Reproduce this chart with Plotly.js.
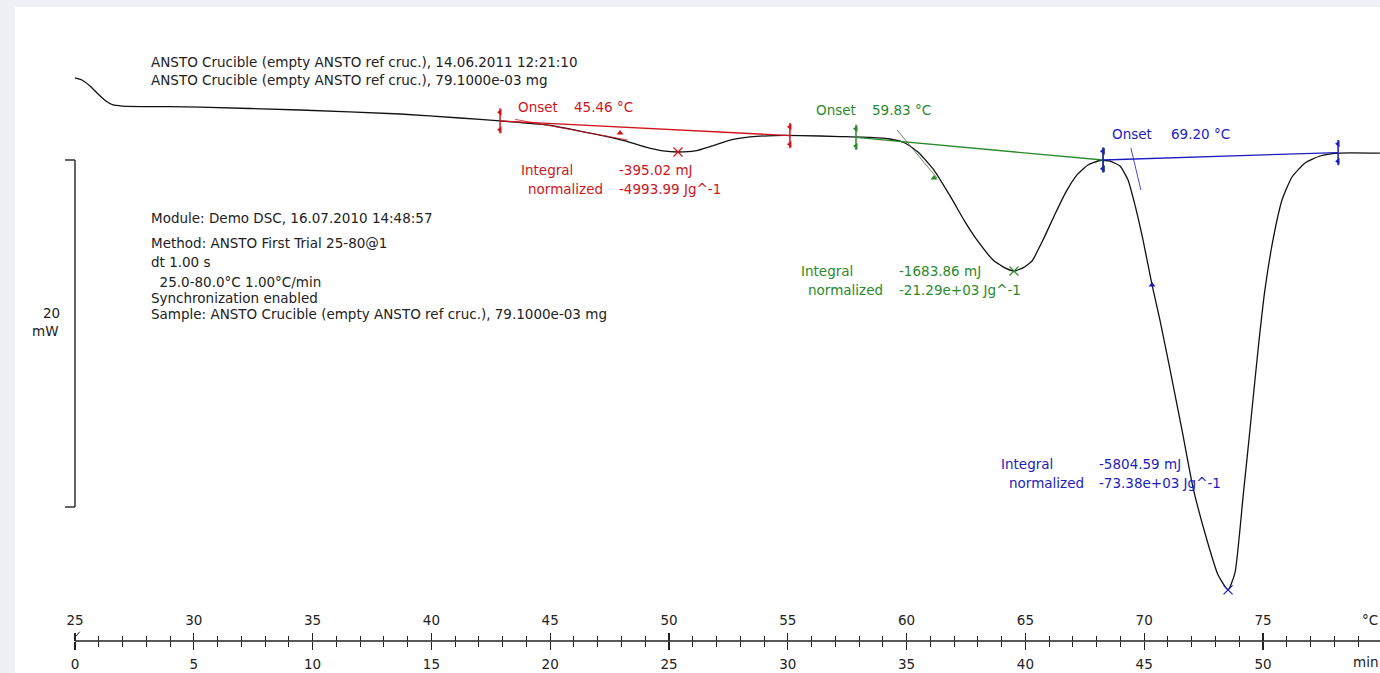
<!DOCTYPE html>
<html>
<head>
<meta charset="utf-8">
<script src="https://cdn.plot.ly/plotly-3.0.1.min.js"></script>
<style>html,body{margin:0;padding:0;background:#eef0f5;}#chart{width:1380px;height:673px;}</style>
</head>
<body>
<div id="chart"></div>
<script>
// ---- DSC curve: time (min) vs heat flow (mW, arbitrary offset) ----
const timeMin = [0.00,0.29,0.63,0.97,1.30,1.60,1.98,5.26,9.47,13.68,16.20,17.89,19.87,21.25,22.31,23.15,23.99,24.75,25.38,26.09,26.81,27.57,28.41,29.46,30.51,32.20,33.46,34.30,34.93,35.48,36.15,36.83,37.46,37.96,38.64,39.14,39.52,39.90,40.28,40.74,41.25,41.71,42.17,42.63,43.14,43.56,43.98,44.32,44.61,44.95,45.33,45.66,46.09,46.59,47.05,47.64,48.11,48.53,48.82,49.16,49.45,49.79,50.08,50.42,50.80,51.22,51.77,52.40,53.16,54.92];
const heatFlow = [4.73,4.61,4.27,3.80,3.40,3.17,3.11,3.05,2.88,2.65,2.42,2.25,2.02,1.67,1.38,1.10,0.75,0.52,0.46,0.52,0.81,1.15,1.33,1.41,1.41,1.35,1.30,1.21,0.98,0.46,-0.58,-2.07,-3.57,-4.61,-5.76,-6.22,-6.40,-6.22,-5.82,-4.61,-3.11,-1.84,-0.86,-0.29,-0.03,-0.06,-0.35,-1.15,-2.59,-4.61,-7.20,-9.22,-12.10,-15.56,-18.85,-21.90,-23.92,-24.78,-23.80,-19.42,-15.56,-10.95,-7.49,-4.61,-2.31,-0.98,-0.17,0.23,0.40,0.40];

// ---- evaluation baselines (start/end) ----
const peakColors  = ['#d0141e','#2b8a2b','#1c1cc0'];
const baseT0 = [17.89, 32.87, 43.27];
const baseY0 = [2.25, 1.30, 0.00];
const baseT1 = [30.09, 43.27, 53.16];
const baseY1 = [1.41, 0.00, 0.43];
// onset tangents
const tanT0 = [18.52, 34.60, 44.44];
const tanY0 = [2.34, 1.73, 0.69];
const tanT1 = [23.27, 36.28, 44.86];
const tanY1 = [1.15, -1.04, -1.73];
// peak (minimum) markers
const peakT = [25.38, 39.52, 48.53];
const peakY = [0.46, -6.40, -24.78];
// small limit markers on the curve
const limT = [22.94, 36.15, 45.33];
const limY = [1.56, -1.04, -7.20];
// texts
const onsetText    = ['45.46 °C','59.83 °C','69.20 °C'];
const integralText = ['-395.02 mJ','-1683.86 mJ','-5804.59 mJ'];
const normText     = ['-4993.99 Jg^-1','-21.29e+03 Jg^-1','-73.38e+03 Jg^-1'];

// axes ticks
const timeTicks = [0,5,10,15,20,25,30,35,40,45,50];
const tempTicks = [25,30,35,40,45,50,55,60,65,70,75];
const timeMinor = [1,2,3,4,6,7,8,9,11,12,13,14,16,17,18,19,21,22,23,24,26,27,28,29,31,32,33,34,36,37,38,39,41,42,43,44,46,47,48,49,51,52,53,54];

// scale bar (mW)
const scaleBarTop = 0, scaleBarBottom = -20;

// header / info text
const headerLines = ['ANSTO Crucible (empty ANSTO ref cruc.), 14.06.2011 12:21:10','ANSTO Crucible (empty ANSTO ref cruc.), 79.1000e-03 mg'];
const infoLines = ['Module: Demo DSC, 16.07.2010 14:48:57','Method: ANSTO First Trial 25-80@1','dt 1.00 s','\u00a0\u00a025.0-80.0°C 1.00°C/min','Synchronization enabled','Sample: ANSTO Crucible (empty ANSTO ref cruc.), 79.1000e-03 mg'];

// ---- layout geometry (pixels -> paper) ----
const W=1380,H=673,ML=15,MT=7;
const PW=W-ML, PH=H-MT;
const xRange=[-2.525,54.924];
const yRange=[-29.568,8.818];
const px=p=>(p-ML)/PW;
const py=p=>(H-p)/PH;
const FONT='DejaVu Sans, sans-serif';
const FS=13.5;
const axisPos=py(641);

const traces=[];
traces.push({x:timeMin,y:heatFlow,mode:'lines',line:{color:'#111',width:1.3,shape:'spline',smoothing:0.5},hoverinfo:'skip',showlegend:false});
const shapes=[];
for(let i=0;i<3;i++){
  const c=peakColors[i];
  traces.push({x:[baseT0[i],baseT1[i]],y:[baseY0[i],baseY1[i]],mode:'lines',line:{color:c,width:1.3},showlegend:false,hoverinfo:'skip'});
  traces.push({x:[tanT0[i],tanT1[i]],y:[tanY0[i],tanY1[i]],mode:'lines',line:{color:i===1?'#446644':c,width:0.8},showlegend:false,hoverinfo:'skip'});
  traces.push({x:[peakT[i]],y:[peakY[i]],mode:'markers',marker:{symbol:'x-thin-open',size:9,color:c,line:{color:c,width:1.2}},showlegend:false,hoverinfo:'skip'});
  traces.push({x:[baseT0[i],baseT1[i]],y:[baseY0[i],baseY1[i]],mode:'markers',marker:{symbol:'line-ns-open',size:18,color:c,line:{color:c,width:1.5}},showlegend:false,hoverinfo:'skip'});
  traces.push({x:[baseT0[i],baseT1[i]],y:[baseY0[i]+0.5,baseY1[i]+0.5],mode:'markers',marker:{symbol:'triangle-left',size:6,color:c},showlegend:false,hoverinfo:'skip'});
  traces.push({x:[baseT0[i],baseT1[i]],y:[baseY0[i]-0.5,baseY1[i]-0.5],mode:'markers',marker:{symbol:'triangle-left',size:6,color:c},showlegend:false,hoverinfo:'skip'});
  traces.push({x:[limT[i]],y:[limY[i]],mode:'markers',marker:{symbol:'triangle-up',size:6,color:c},showlegend:false,hoverinfo:'skip'});
}
// scale bar
shapes.push({type:'line',xref:'x',yref:'y',x0:0,x1:0,y0:scaleBarTop,y1:scaleBarBottom,line:{color:'#333',width:1.5}});
shapes.push({type:'line',xref:'x',yref:'y',x0:-0.42,x1:0,y0:scaleBarTop,y1:scaleBarTop,line:{color:'#333',width:1.5}});
shapes.push({type:'line',xref:'x',yref:'y',x0:-0.42,x1:0,y0:scaleBarBottom,y1:scaleBarBottom,line:{color:'#333',width:1.5}});
// axis line
shapes.push({type:'line',xref:'x',yref:'paper',x0:0,x1:xRange[1],y0:axisPos,y1:axisPos,line:{color:'#222',width:1.3}});
shapes.push({type:'line',xref:'x',yref:'paper',x0:0.04,x1:0.2,y0:axisPos+0.007,y1:axisPos+0.014,line:{color:'#222',width:1}});

const ann=[];
function txt(t,x,y,color,anchor){ann.push({text:t,xref:'paper',yref:'paper',x:px(x),y:py(y),xanchor:anchor||'left',yanchor:'middle',showarrow:false,font:{family:FONT,size:FS,color:color||'#222'},borderpad:0});}
txt(headerLines[0],150,62);
txt(headerLines[1],150,80);
const infoY=[218,243,262,282,298,314];
infoLines.forEach((l,i)=>txt(l,150,infoY[i]));
txt('20',61,313,'#222','right');
txt('mW',60,331,'#222','right');
txt('°C',1379,620,'#222','right');
txt('min',1379,662,'#222','right');
const onX=[[517,573],[815,871],[1111,1170]], onY=[107,110,134];
const intX=[[520,618],[800,898],[1000,1098]], intY=[170,271,464];
const norX=[[527,618],[807,898],[1008,1098]], norY=[189,290,483];
for(let i=0;i<3;i++){
  const c=peakColors[i];
  txt('Onset',onX[i][0],onY[i],c); txt(onsetText[i],onX[i][1],onY[i],c);
  txt('Integral',intX[i][0],intY[i],c); txt(integralText[i],intX[i][1],intY[i],c);
  txt('normalized',norX[i][0],norY[i],c); txt(normText[i],norX[i][1],norY[i],c);
}

const tickFont={family:FONT,size:FS,color:'#222'};
const baseAx={anchor:'free',position:axisPos,showgrid:false,zeroline:false,showline:false,tickmode:'array',tickwidth:1,tickcolor:'#222',tickfont:tickFont,ticklabelstandoff:3,ticks:'outside'};
const layout={
  width:W,height:H,
  margin:{l:ML,r:0,t:MT,b:0,pad:0},
  paper_bgcolor:'#eef0f5',plot_bgcolor:'#ffffff',
  showlegend:false,
  xaxis:Object.assign({},baseAx,{range:xRange,side:'bottom',tickvals:timeTicks,ticktext:timeTicks.map(String),ticklen:8,tickwidth:1.3}),
  xaxis2:Object.assign({},baseAx,{range:[xRange[0]+25,xRange[1]+25],overlaying:'x',side:'top',tickvals:tempTicks,ticktext:tempTicks.map(String),ticklen:8,tickwidth:1.3}),
  xaxis3:Object.assign({},baseAx,{range:xRange,overlaying:'x',side:'bottom',tickvals:timeMinor,showticklabels:false,ticklen:5}),
  xaxis4:Object.assign({},baseAx,{range:xRange,overlaying:'x',side:'top',tickvals:timeMinor,showticklabels:false,ticklen:5}),
  yaxis:{range:yRange,visible:false,showgrid:false,zeroline:false,fixedrange:true},
  shapes:shapes,annotations:ann
};
// invisible anchors so the overlaying axes get drawn
['x2','x3','x4'].forEach(a=>traces.push({x:[a==='x2'?xRange[0]+25:xRange[0]],y:[yRange[0]-5],xaxis:a,yaxis:'y',mode:'markers',marker:{opacity:0},showlegend:false,hoverinfo:'skip'}));
Plotly.newPlot('chart',traces,layout,{staticPlot:true,displayModeBar:false});
</script>
</body>
</html>
